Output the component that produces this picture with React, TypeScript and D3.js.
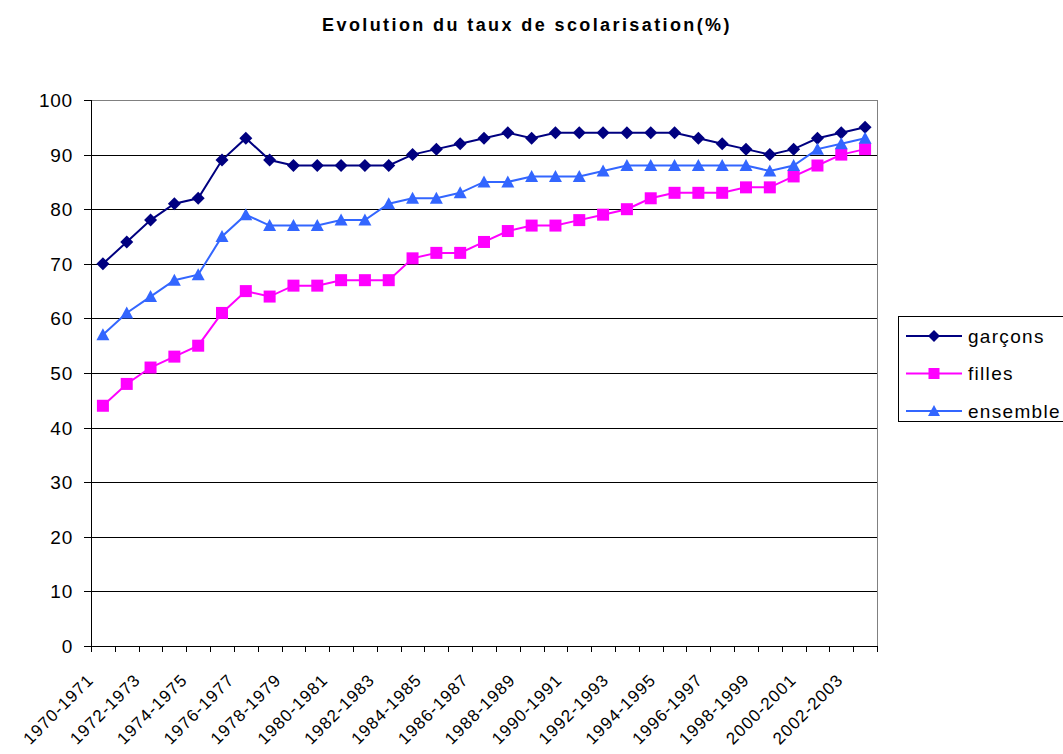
import { line, scaleBand, scaleLinear } from 'd3'

const categories = [
  '1970-1971', '1971-1972', '1972-1973', '1973-1974', '1974-1975', '1975-1976',
  '1976-1977', '1977-1978', '1978-1979', '1979-1980', '1980-1981', '1981-1982',
  '1982-1983', '1983-1984', '1984-1985', '1985-1986', '1986-1987', '1987-1988',
  '1988-1989', '1989-1990', '1990-1991', '1991-1992', '1992-1993', '1993-1994',
  '1994-1995', '1995-1996', '1996-1997', '1997-1998', '1998-1999', '1999-2000',
  '2000-2001', '2001-2002', '2002-2003',
]

const garcons = [
  70, 74, 78, 81, 82, 89, 93, 89, 88, 88, 88, 88, 88, 90, 91, 92, 93,
  94, 93, 94, 94, 94, 94, 94, 94, 93, 92, 91, 90, 91, 93, 94, 95,
]
const filles = [
  44, 48, 51, 53, 55, 61, 65, 64, 66, 66, 67, 67, 67, 71, 72, 72, 74,
  76, 77, 77, 78, 79, 80, 82, 83, 83, 83, 84, 84, 86, 88, 90, 91,
]
const ensemble = [
  57, 61, 64, 67, 68, 75, 79, 77, 77, 77, 78, 78, 81, 82, 82, 83, 85,
  85, 86, 86, 86, 87, 88, 88, 88, 88, 88, 88, 87, 88, 91, 92, 93,
]

const yTickValues = [0, 10, 20, 30, 40, 50, 60, 70, 80, 90, 100]

const width = 1063
const height = 754
const plot = { left: 91, right: 877, top: 100, bottom: 646 }
const font = '"Liberation Sans", Arial, sans-serif'

type Shape = 'diamond' | 'square' | 'triangle'

const series: { name: string; values: number[]; color: string; shape: Shape }[] = [
  { name: 'garçons', values: garcons, color: '#000080', shape: 'diamond' },
  { name: 'filles', values: filles, color: '#FF00FF', shape: 'square' },
  { name: 'ensemble', values: ensemble, color: '#3366FF', shape: 'triangle' },
]

const Marker = ({ shape, x, y, color, r = 6.5 }: { shape: Shape; x: number; y: number; color: string; r?: number }) => {
  if (shape === 'diamond') {
    return <path d={`M${x},${y - r}L${x + r},${y}L${x},${y + r}L${x - r},${y}Z`} fill={color} />
  }
  if (shape === 'square') {
    return <rect x={x - r + 0.5} y={y - r + 0.5} width={2 * r - 1} height={2 * r - 1} fill={color} />
  }
  return <path d={`M${x},${y - r}L${x + r},${y + r - 1}L${x - r},${y + r - 1}Z`} fill={color} />
}

const App = () => {
  const x = scaleBand<string>().domain(categories).range([plot.left, plot.right])
  const y = scaleLinear().domain([0, 100]).range([plot.bottom, plot.top])
  const cx = (c: string) => (x(c) ?? 0) + x.bandwidth() / 2

  // the rotated labels drift slightly left of the categories, as in the original
  const labelX = scaleBand<string>().domain(categories).range([83, 856])
  const lx = (c: string) => (labelX(c) ?? 0) + labelX.bandwidth() / 2

  const makeLine = (values: number[]) =>
    line<number>()
      .x((_, i) => cx(categories[i]))
      .y((d) => y(d))(values) ?? ''

  const boundaries = [...categories.map((c) => x(c) ?? 0), plot.right]

  return (
    <svg width={width} height={height} style={{ position: 'absolute', left: 0, top: 0, background: 'white' }} fontFamily={font}>
      <text x={527} y={31} textAnchor="middle" fontSize={18} fontWeight="bold" letterSpacing={2.4}>
        Evolution du taux de scolarisation(%)
      </text>

      {/* grid */}
      {yTickValues.slice(1, -1).map((t) => (
        <line key={t} x1={plot.left} x2={plot.right} y1={Math.round(y(t)) + 0.5} y2={Math.round(y(t)) + 0.5} stroke="#000" />
      ))}
      <line x1={plot.left} x2={plot.right} y1={plot.top + 0.5} y2={plot.top + 0.5} stroke="#808080" />
      <line x1={plot.right + 0.5} x2={plot.right + 0.5} y1={plot.top} y2={plot.bottom} stroke="#808080" />

      {/* y axis */}
      <line x1={plot.left + 0.5} x2={plot.left + 0.5} y1={plot.top} y2={plot.bottom + 6} stroke="#000" />
      {yTickValues.map((t) => (
        <g key={t} transform={`translate(0, ${Math.round(y(t)) + 0.5})`}>
          <line x1={plot.left - 7} x2={plot.left} stroke="#000" />
          <text x={73} dy="0.36em" textAnchor="end" fontSize={19} letterSpacing={0.8}>
            {t}
          </text>
        </g>
      ))}

      {/* x axis */}
      <line x1={plot.left} x2={plot.right} y1={plot.bottom + 0.5} y2={plot.bottom + 0.5} stroke="#000" />
      {boundaries.map((b, i) => (
        <line key={i} x1={Math.round(b) + 0.5} x2={Math.round(b) + 0.5} y1={plot.bottom} y2={plot.bottom + 6} stroke="#000" />
      ))}
      {categories.map((c, i) =>
        i % 2 === 0 ? (
          <text
            key={c}
            transform={`translate(${lx(c)}, 681) rotate(-45)`}
            textAnchor="end"
            fontSize={17}
            letterSpacing={1.1}
          >
            {c}
          </text>
        ) : null,
      )}

      {/* series */}
      {series.map((s) => (
        <g key={s.name}>
          <path d={makeLine(s.values)} fill="none" stroke={s.color} strokeWidth={2} />
          {s.values.map((v, i) => (
            <Marker key={i} shape={s.shape} x={cx(categories[i])} y={y(v)} color={s.color} />
          ))}
        </g>
      ))}

      {/* legend */}
      <rect x={898.5} y={316.5} width={180} height={105} fill="white" stroke="#000" />
      {series.map((s, i) => {
        const ly = 336 + i * 37.5
        return (
          <g key={s.name}>
            <line x1={906} x2={962} y1={ly} y2={ly} stroke={s.color} strokeWidth={2} />
            <Marker shape={s.shape} x={934} y={ly} color={s.color} r={6} />
            <text x={968} y={ly} dy="0.36em" fontSize={19} letterSpacing={1.3}>
              {s.name}
            </text>
          </g>
        )
      })}
    </svg>
  )
}

export default App
